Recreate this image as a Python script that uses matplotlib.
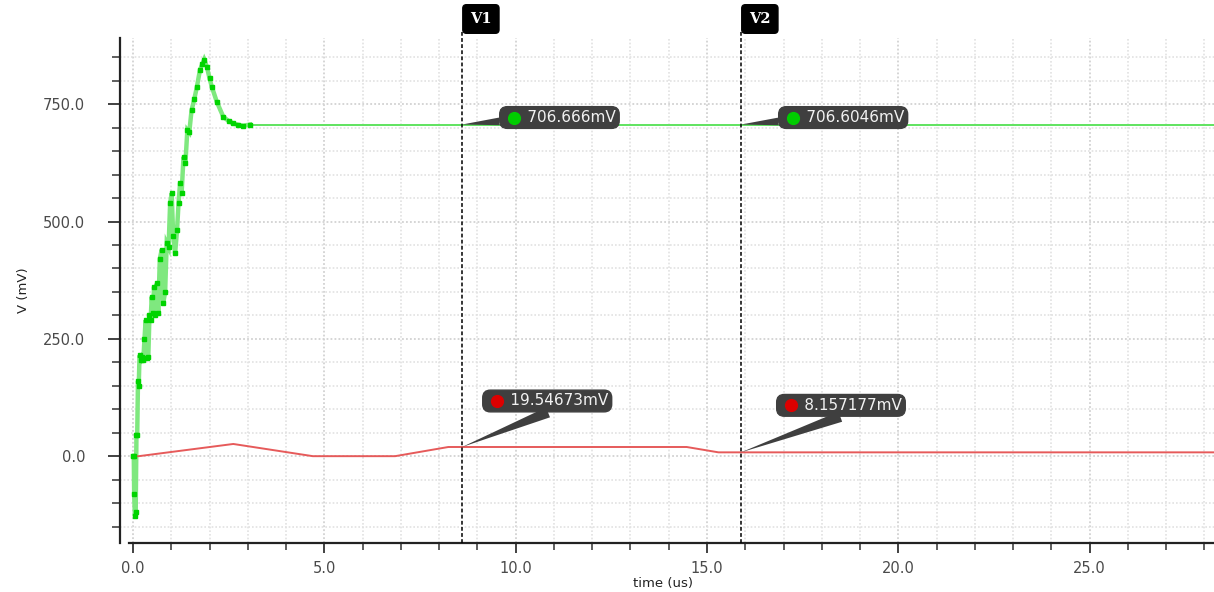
import matplotlib
matplotlib.use("Agg")
import matplotlib.pyplot as plt
from matplotlib.ticker import MultipleLocator, FormatStrFormatter
import matplotlib.transforms as mtransforms

# ---------------- data ----------------
green_t = [0.00, 0.02, 0.03, 0.05, 0.07, 0.09, 0.11, 0.13, 0.15, 0.17, 0.20, 0.24,
           0.27, 0.30, 0.33, 0.36, 0.40, 0.43, 0.46, 0.49, 0.52, 0.55, 0.58, 0.62,
           0.66, 0.70, 0.75, 0.79, 0.84, 0.88, 0.93, 0.97, 1.01, 1.05, 1.10, 1.15,
           1.19, 1.23, 1.27, 1.32, 1.37, 1.42, 1.47, 1.53, 1.60, 1.67, 1.75, 1.81,
           1.86, 1.93, 2.00, 2.06, 2.19, 2.36, 2.50, 2.62, 2.75, 2.88, 3.06, 28.3]
green_v = [0, 0, -80, -128, -120, 45, 45, 160, 150, 215, 205, 212,
           205, 250, 290, 210, 212, 300, 290, 340, 305, 361, 300, 368,
           305, 420, 440, 326, 350, 454, 445, 539, 560, 470, 432, 481,
           539, 582, 560, 638, 625, 695, 690, 737, 760, 787, 823, 835,
           845, 830, 805, 787, 755, 723, 714, 709, 706, 704, 706.666, 706.666]

red_t = [0.0, 0.15, 2.62, 4.7, 6.85, 8.24, 14.47, 15.3, 28.3]
red_v = [0.0, 0.0, 26.0, 0.0, 0.0, 19.55, 19.55, 8.16, 8.16]

cursor_t = [8.6, 15.89]
cursor_names = ["V1", "V2"]
green_marks = ["706.666mV", "706.6046mV"]
green_mark_v = [706.666, 706.6046]
red_marks = ["19.54673mV", "8.157177mV"]
red_mark_v = [19.54673, 8.157177]

# ---------------- figure ----------------
W, H = 1214, 592
fig = plt.figure(figsize=(W / 100, H / 100), dpi=100)
ax = fig.add_axes([120 / W, 1 - 543 / H, (W - 120) / W, (543 - 38) / H])
ax.set_xlim(-0.34, 28.25)
ax.set_ylim(-185, 891)

ax.xaxis.set_major_locator(MultipleLocator(5))
ax.xaxis.set_minor_locator(MultipleLocator(1))
ax.yaxis.set_major_locator(MultipleLocator(250))
ax.yaxis.set_minor_locator(MultipleLocator(50))
ax.xaxis.set_major_formatter(FormatStrFormatter("%.1f"))
ax.yaxis.set_major_formatter(FormatStrFormatter("%.1f"))
ax.grid(True, which="major", color="#d2d2d2", linestyle=(0, (1, 1.2)), lw=1.3)
ax.grid(True, which="minor", color="#e2e2e2", linestyle=(0, (1, 1.2)), lw=1.2)
ax.set_axisbelow(True)

for s in ["top", "right"]:
    ax.spines[s].set_visible(False)
for s in ["left", "bottom"]:
    ax.spines[s].set_color("#222222")
    ax.spines[s].set_linewidth(1.6)
ax.spines["bottom"].set_bounds(-0.1, 28.25)

ax.tick_params(axis="y", which="major", length=9, width=1.3, color="#333333",
               pad=16, labelsize=10.5, labelcolor="#4a4a4a")
ax.tick_params(axis="y", which="minor", length=6, width=1.1, color="#333333")
ax.tick_params(axis="x", which="major", length=7, width=1.3, color="#333333",
               pad=6, labelsize=10.5, labelcolor="#4a4a4a")
ax.tick_params(axis="x", which="minor", length=5, width=1.1, color="#333333")

ax.set_xlabel("time (us)", fontsize=9.5, color="#222222")
ax.set_ylabel("V (mV)", fontsize=9.5, color="#222222")
ax.xaxis.set_label_coords((663 - 120) / (W - 120), -(577 - 543) / (543 - 38))
ax.yaxis.set_label_coords(-(120 - 30) / (W - 120), (543 - 290) / (543 - 38))

# ---------------- traces ----------------
n_ramp = green_t.index(3.06) + 1
ax.plot(green_t[:n_ramp], green_v[:n_ramp], color="#7fe87f", lw=3.2,
        solid_joinstyle="miter", zorder=3)
ax.plot(green_t[:n_ramp], green_v[:n_ramp], color="#00d400", lw=0,
        marker="s", ms=3.2, zorder=4)
ax.plot(green_t[n_ramp - 1:], green_v[n_ramp - 1:], color="#5fe35f", lw=1.4, zorder=3)
ax.plot(red_t, red_v, color="#e65a5a", lw=1.4, zorder=3)

# ---------------- cursors ----------------
trans = mtransforms.blended_transform_factory(ax.transData, ax.transAxes)
for ct, name in zip(cursor_t, cursor_names):
    ax.plot([ct, ct], [0, 1 + 8 / 505], transform=trans, color="black",
            lw=1.1, linestyle=(0, (2.5, 1.5)), clip_on=False, zorder=5)
    ax.annotate(name, xy=(ct, 1 + 19 / 505), xycoords=trans,
                xytext=(8, 0), textcoords="offset pixels",
                ha="left", va="center", color="white", fontsize=10.5,
                family="DejaVu Serif", weight="bold", annotation_clip=False,
                bbox=dict(boxstyle="round,pad=0.5,rounding_size=0.25",
                          fc="black", ec="black"), zorder=6)


def marker(x, y, label, dot_color, dx, dy, dot_dx, tail, relpos):
    ax.annotate("     " + label, xy=(x, y), xycoords="data",
                xytext=(dx, dy), textcoords="offset pixels",
                ha="left", va="center", color="#f2f2f2", fontsize=11,
                bbox=dict(boxstyle="round,pad=0.22,rounding_size=0.5",
                          fc="#3f3f3f", ec="#3f3f3f"),
                arrowprops=dict(arrowstyle="wedge,tail_width=%s,shrink_factor=0.5" % tail,
                                fc="#3f3f3f", ec="none", relpos=relpos,
                                shrinkA=0, shrinkB=0),
                zorder=7)
    off = mtransforms.offset_copy(ax.transData, fig=fig, x=dot_dx, y=dy,
                                  units="dots")
    ax.plot([x], [y], transform=off, marker="o", ms=8.5, color=dot_color,
            lw=0, zorder=8, clip_on=False)


for ct, lab, v in zip(cursor_t, green_marks, green_mark_v):
    marker(ct, v, lab, "#00cc00", 41, 7, 52, 0.5, (0.06, 0.3))

marker(cursor_t[0], red_mark_v[0], red_marks[0], "#dd0000", 24, 46, 35, 0.7, (0.6, 0.05))
marker(cursor_t[1], red_mark_v[1], red_marks[1], "#dd0000", 39, 47, 50, 0.7, (0.6, 0.05))

fig.savefig("out.png", dpi=100)
